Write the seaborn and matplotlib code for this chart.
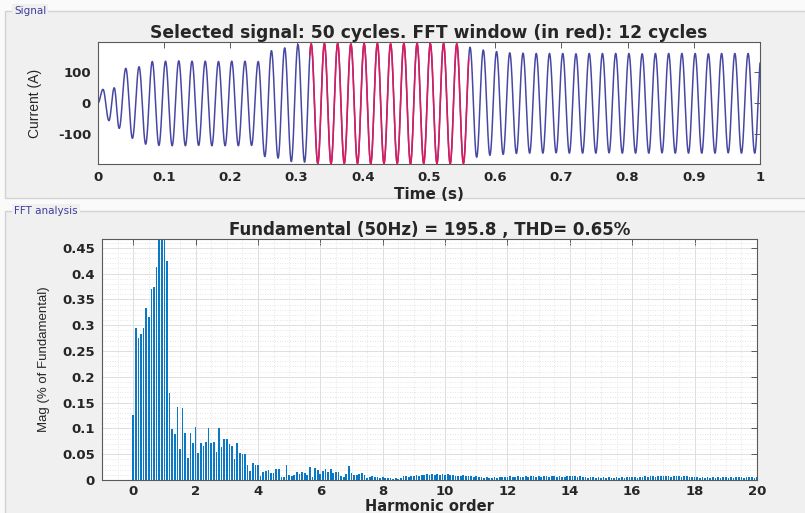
import numpy as np
import pandas as pd
import matplotlib
matplotlib.use("Agg")
import matplotlib.pyplot as plt
import seaborn as sns
from matplotlib.patches import Rectangle
from matplotlib.ticker import MultipleLocator, FuncFormatter

# ---------------- time-domain record (50 Hz, 1 s) ----------------
# positive peak of each cycle (A); the last one falls just after t = 1 s
cycle_peaks = [44, 49, 112, 117, 134, 135, 136, 135, 135, 134, 135, 135, 134,
               169, 178, 189,
               191, 192, 192, 191, 192, 192, 191, 192, 192, 191, 192, 191,
               180, 171, 166, 162, 161, 160, 160, 160, 159, 160, 160, 160,
               160, 159, 160, 160, 160, 160, 159, 160, 160, 160,
               160]
# negative peak of each cycle (A)
cycle_troughs = [-57, -82, -114, -133, -137, -138, -138, -137, -138, -138, -138, -137,
                 -173, -178, -189, -191,
                 -195, -196, -195, -195, -196, -195, -195, -196, -195, -195, -196, -195,
                 -175, -169, -166, -163,
                 -162, -162, -161, -162, -162, -162, -161, -162, -162, -162,
                 -161, -162, -162, -162, -162, -161, -162, -162]
# instants of the first extrema (transient start), s
early_extremum_times = [0.0075, 0.0165, 0.0245]

f0 = 50.0
fft_window = (0.32, 0.56)           # 12 cycles analysed
fft_cycles = 12

# ---------------- FFT result (% of fundamental), bins of 1/12 order ----------------
mag = [
    # order 0 .. 1
    0.125, 0.294, 0.276, 0.282, 0.295, 0.333, 0.315, 0.370, 0.374, 0.412, 0.520, 0.610,
    # order 1 .. 2
    100.0, 0.425, 0.169, 0.098, 0.090, 0.141, 0.061, 0.139, 0.092, 0.042, 0.092, 0.072,
    # order 2 .. 3
    0.102, 0.053, 0.072, 0.065, 0.074, 0.100, 0.072, 0.074, 0.055, 0.101, 0.063, 0.079,
    # order 3 .. 4
    0.079, 0.069, 0.065, 0.040, 0.071, 0.052, 0.050, 0.050, 0.030, 0.018, 0.032, 0.030,
    # order 4 .. 5
    0.030, 0.008, 0.015, 0.017, 0.020, 0.013, 0.014, 0.021, 0.021, 0.005, 0.005, 0.029,
    # order 5 .. 6
    0.010, 0.008, 0.010, 0.016, 0.011, 0.015, 0.014, 0.010, 0.026, 0.005, 0.023, 0.019,
    # order 6 .. 7
    0.012, 0.018, 0.021, 0.015, 0.021, 0.013, 0.016, 0.016, 0.008, 0.006, 0.011, 0.027,
    # order 7 .. 8
    0.013, 0.010, 0.010, 0.011, 0.014, 0.010, 0.003, 0.005, 0.008, 0.006, 0.006, 0.003,
    # order 8 .. 9
    0.005, 0.003, 0.004, 0.003, 0.001, 0.003, 0.002, 0.004, 0.008, 0.007, 0.006, 0.008,
    # order 9 .. 10
    0.007, 0.009, 0.008, 0.010, 0.009, 0.011, 0.010, 0.012, 0.009, 0.011, 0.010, 0.011,
    # order 10 .. 11
    0.010, 0.011, 0.009, 0.010, 0.007, 0.008, 0.007, 0.009, 0.008, 0.007, 0.008, 0.006,
    # order 11 .. 12
    0.007, 0.006, 0.005, 0.004, 0.005, 0.004, 0.003, 0.005, 0.004, 0.005, 0.006, 0.005,
    # order 12 .. 13
    0.006, 0.007, 0.005, 0.006, 0.007, 0.006, 0.005, 0.007, 0.006, 0.008, 0.007, 0.006,
    # order 13 .. 14
    0.007, 0.006, 0.008, 0.007, 0.006, 0.007, 0.008, 0.006, 0.007, 0.005, 0.006, 0.007,
    # order 14 .. 15
    0.008, 0.007, 0.008, 0.006, 0.007, 0.005, 0.006, 0.004, 0.005, 0.006, 0.004, 0.005,
    # order 15 .. 16
    0.004, 0.005, 0.004, 0.005, 0.003, 0.004, 0.005, 0.004, 0.005, 0.004, 0.005, 0.006,
    # order 16 .. 17
    0.005, 0.006, 0.004, 0.006, 0.005, 0.007, 0.006, 0.007, 0.008, 0.006, 0.008, 0.007,
    # order 17 .. 18
    0.008, 0.007, 0.008, 0.006, 0.008, 0.007, 0.008, 0.006, 0.007, 0.008, 0.006, 0.005,
    # order 18 .. 19
    0.006, 0.005, 0.004, 0.005, 0.004, 0.005, 0.004, 0.005, 0.004, 0.005, 0.004, 0.005,
    # order 19 .. 20
    0.005, 0.004, 0.005, 0.004, 0.005, 0.006, 0.005, 0.004, 0.005, 0.006, 0.005, 0.004,
    # order 20
    0.005,
]
fundamental = 195.8
thd = 0.65

# ---------------- build the waveform through the extrema ----------------
n_ext = len(cycle_peaks)
ext_t, ext_v = [0.0], [0.0]
for n in range(n_ext):
    ext_t.append(0.002 + n / f0)
    ext_v.append(cycle_peaks[n])
    if n < len(cycle_troughs):
        ext_t.append(0.012 + n / f0)
        ext_v.append(cycle_troughs[n])
ext_t = np.array(ext_t)
ext_v = np.array(ext_v, dtype=float)
ext_t[1:1 + len(early_extremum_times)] = early_extremum_times

t = np.linspace(0.0, 1.0, 10001)
k = np.clip(np.searchsorted(ext_t, t, side="right") - 1, 0, len(ext_t) - 2)
t0, t1 = ext_t[k], ext_t[k + 1]
v0, v1 = ext_v[k], ext_v[k + 1]
phase = np.pi * (t - t0) / (t1 - t0)
current = (v0 + v1) / 2 + (v0 - v1) / 2 * np.cos(phase)

signal = pd.DataFrame({"t": t, "i": current})
in_window = (signal["t"] >= fft_window[0]) & (signal["t"] <= fft_window[1])
window = signal[in_window]

spectrum = pd.DataFrame({"order": np.arange(len(mag)) / fft_cycles, "mag": mag})

# ---------------- styling ----------------
sns.set_theme(style="white")
plt.rcParams.update({
    "font.family": ["DejaVu Sans"],
    "axes.unicode_minus": False,
    "axes.edgecolor": "#5a5a5a",
    "axes.linewidth": 0.8,
    "xtick.direction": "in",
    "ytick.direction": "in",
    "xtick.color": "#5a5a5a",
    "ytick.color": "#5a5a5a",
    "xtick.labelcolor": "#262626",
    "ytick.labelcolor": "#262626",
})
narrow = ["Liberation Sans", "DejaVu Sans"]
tick_font = dict(fontsize=9.5, fontweight="bold")

W, H = 805, 513
fig = plt.figure(figsize=(W / 100, H / 100), dpi=100, facecolor="#fafafa")

# etched group panels
for y_top, y_bot, label in [(11, 198, "Signal"), (211, 520, "FFT analysis")]:
    fig.add_artist(Rectangle((5 / W, 1 - y_bot / H), 1.0, (y_bot - y_top) / H,
                             transform=fig.transFigure, facecolor="#f0f0f0",
                             edgecolor="#d2d2d2", linewidth=1.0, zorder=-5))
    fig.text(14 / W, 1 - y_top / H, label, fontsize=7.5, color="#3d3d9e",
             va="center", ha="left",
             bbox=dict(facecolor="#f0f0f0", edgecolor="none", pad=1.5))

ax1 = fig.add_axes([98 / W, 1 - 164 / H, (760 - 98) / W, (164 - 42) / H])
ax2 = fig.add_axes([102 / W, 1 - 480 / H, (757 - 102) / W, (480 - 239) / H])

# ---- signal ----
sns.lineplot(data=signal, x="t", y="i", color="#4848a4", linewidth=1.1,
             estimator=None, sort=False, ax=ax1)
sns.lineplot(data=window, x="t", y="i", color="#e2185a", linewidth=1.1,
             estimator=None, sort=False, ax=ax1)
ax1.set_xlim(0, 1)
ax1.set_ylim(-197, 197)
ax1.xaxis.set_major_locator(MultipleLocator(0.1))
ax1.set_yticks([-100, 0, 100])
ax1.xaxis.set_major_formatter(FuncFormatter(lambda v, p: f"{v:g}"))
ax1.set_title("Selected signal: 50 cycles. FFT window (in red): 12 cycles",
              fontsize=12.3, fontweight="bold", pad=3)
ax1.set_xlabel("Time (s)", fontsize=11, fontweight="bold")
ax1.set_ylabel("Current (A)", fontsize=10, family=narrow, fontstretch="condensed")
ax1.xaxis.set_label_coords(0.5, -0.19)
ax1.yaxis.set_label_coords(-0.085, 0.5)

# ---- spectrum ----
sns.barplot(data=spectrum, x="order", y="mag", native_scale=True, width=0.65,
            color="#0a78c4", saturation=1, errorbar=None, linewidth=0, ax=ax2)
ax2.set_xlim(-1, 20)
ax2.set_ylim(0, 0.467)
ax2.xaxis.set_major_locator(MultipleLocator(2))
ax2.xaxis.set_minor_locator(MultipleLocator(0.5))
ax2.yaxis.set_major_locator(MultipleLocator(0.05))
ax2.yaxis.set_minor_locator(MultipleLocator(0.01))
ax2.xaxis.set_major_formatter(FuncFormatter(lambda v, p: f"{v:g}"))
ax2.yaxis.set_major_formatter(FuncFormatter(lambda v, p: f"{round(v, 3):g}"))
ax2.set_axisbelow(True)
ax2.grid(which="major", color="#dedede", linewidth=0.7, linestyle="-")
ax2.grid(which="minor", color="#dcdcdc", linewidth=0.6, linestyle=(0, (1, 2)))
ax2.set_title(f"Fundamental (50Hz) = {fundamental} , THD= {thd}%",
              fontsize=12, fontweight="bold", pad=3)
ax2.set_xlabel("Harmonic order", fontsize=10.5, fontweight="bold")
ax2.set_ylabel("Mag (% of Fundamental)", fontsize=9.5, family=narrow,
               fontstretch="condensed")
ax2.xaxis.set_label_coords(0.5, -0.078)
ax2.yaxis.set_label_coords(-0.079, 0.5)

for ax in (ax1, ax2):
    ax.set_facecolor("white")
    for s in ax.spines.values():
        s.set_visible(True)
    ax.tick_params(which="major", length=4, width=0.7, top=True, right=True, pad=5)
    ax.tick_params(which="minor", length=0, top=True, right=True)
    for lab in ax.get_xticklabels() + ax.get_yticklabels():
        lab.set_fontsize(tick_font["fontsize"])
        lab.set_fontweight(tick_font["fontweight"])
ax2.tick_params(axis="x", which="major", pad=3.5)

fig.savefig("out.png", dpi=100, facecolor=fig.get_facecolor())
